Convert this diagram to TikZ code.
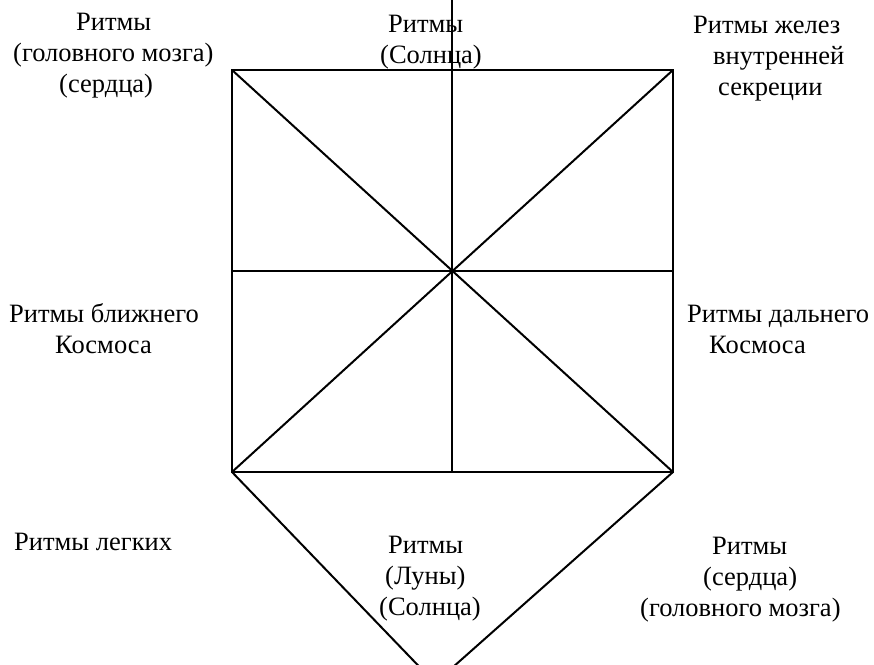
\documentclass[tikz,border=0pt]{standalone}
\usepackage{fontspec}
\setmainfont{Liberation Serif}
\usetikzlibrary{positioning}

\begin{document}
\begin{tikzpicture}[
    x=1pt, y=-1pt,
    every node/.style={font=\fontsize{26.5}{31}\selectfont, inner sep=0pt},
    lbl/.style={anchor=base west, align=left},
    edge/.style={line width=2pt, black}
]
\useasboundingbox (0,0) rectangle (874,664);
\clip (0,0) rectangle (874,664);

\coordinate (tl) at (232,70);
\coordinate (tr) at (673,70);
\coordinate (bl) at (232,472);
\coordinate (br) at (673,472);
\coordinate (ml) at (232,271);
\coordinate (mr) at (673,271);
\coordinate (top) at (452,-5);
\coordinate (mb) at (452,472);
\coordinate (apex) at (435,683);

\draw[edge] (tl) rectangle (br);
\draw[edge] (tl) -- (br);
\draw[edge] (tr) -- (bl);
\draw[edge] (ml) -- (mr);
\draw[edge] (top) -- (mb);
\draw[edge] (bl) -- (apex) -- (br);

% last line baselines
\node[lbl] (brainTL) at (13,92) {\hspace*{63pt}Ритмы\\(головного мозга)\\\hspace*{46pt}(сердца)};
\node[lbl] (sunTop) at (380,63) {\hspace*{8pt}Ритмы\\(Солнца)};
\node[lbl] (glands) at (693,95) {Ритмы желез\\\hspace*{20pt}внутренней\\\hspace*{25pt}секреции};
\node[lbl] (nearSp) at (9,353) {Ритмы ближнего\\\hspace*{46pt}Космоса};
\node[lbl] (farSp) at (687,353) {Ритмы дальнего\\\hspace*{22pt}Космоса};
\node[lbl] (lungs) at (14,550) {Ритмы легких};
\node[lbl] (moon) at (379,615) {\hspace*{9pt}Ритмы\\\hspace*{6pt}(Луны)\\(Солнца)};
\node[lbl] (heartBR) at (640,616) {\hspace*{72pt}Ритмы\\\hspace*{63pt}(сердца)\\(головного мозга)};

\end{tikzpicture}
\end{document}
